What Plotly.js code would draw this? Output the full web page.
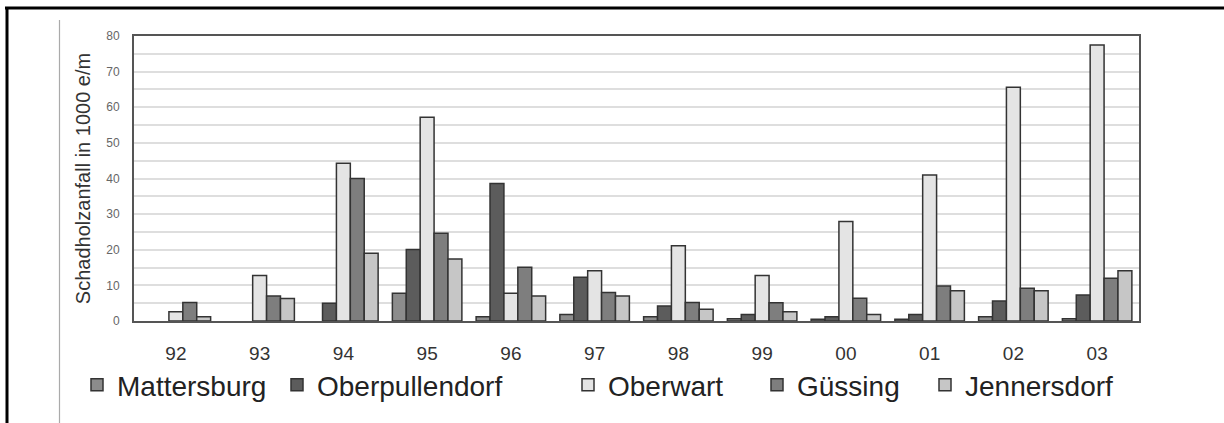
<!DOCTYPE html>
<html>
<head>
<meta charset="utf-8">
<script src="https://cdn.plot.ly/plotly-3.0.1.min.js"></script>
<style>
html,body{margin:0;padding:0;background:#fff;}
#chart{width:1224px;height:423px;}
</style>
</head>
<body>
<div id="chart"></div>
<script>
const years = ["92","93","94","95","96","97","98","99","00","01","02","03"];
const mattersburg    = [null, null, null, 7.8, 1.2, 1.8, 1.2, 0.6, 0.5, 0.5, 1.2, 0.6];
const oberpullendorf = [null, null, 5.0, 20.1, 38.6, 12.3, 4.2, 1.8, 1.2, 1.8, 5.6, 7.3];
const oberwart       = [2.6, 12.8, 44.3, 57.2, 7.8, 14.1, 21.1, 12.8, 27.9, 41.0, 65.6, 77.5];
const guessing       = [5.2, 7.0, 40.0, 24.6, 15.1, 8.0, 5.2, 5.1, 6.4, 9.8, 9.2, 12.0];
const jennersdorf    = [1.2, 6.3, 19.0, 17.4, 7.0, 7.0, 3.3, 2.6, 1.8, 8.5, 8.5, 14.1];
const seriesNames = ["Mattersburg","Oberpullendorf","Oberwart","Güssing","Jennersdorf"];
const seriesValues = [mattersburg, oberpullendorf, oberwart, guessing, jennersdorf];
const seriesColors = ["#8c8c8c","#5c5c5c","#e4e4e4","#7e7e7e","#c6c6c6"];
const yTitle = "Schadholzanfall in 1000 e/m";

const W = 1224, H = 423;
const L = 134, R = 1139, T = 36, B = 321;
const px = x => (x - L) / (R - L);
const py = y => (B - y) / (B - T);

const font = "'Liberation Sans', Arial, sans-serif";
const legendIds = ['legend','legend2','legend3','legend4','legend5'];
const legendX = [77, 277, 568, 757, 925];

const traces = seriesNames.map((n, k) => ({
  type: 'bar',
  name: n,
  x: years,
  y: seriesValues[k],
  legend: legendIds[k],
  marker: {color: seriesColors[k], line: {color: '#333333', width: 1.5}},
  hoverinfo: 'skip'
}));

const layout = {
  width: W, height: H,
  margin: {l: L, r: W - R, t: T, b: H - B, pad: 0},
  paper_bgcolor: '#ffffff',
  plot_bgcolor: '#ffffff',
  font: {family: font, color: '#333'},
  barmode: 'group',
  bargap: 0.17,
  bargroupgap: 0,
  showlegend: true,
  xaxis: {
    type: 'category',
    showline: true, linecolor: '#555', linewidth: 2, mirror: true,
    ticks: 'outside', ticklen: 14, tickcolor: 'rgba(0,0,0,0)',
    tickfont: {family: font, size: 19, color: '#333'},
    showgrid: false, zeroline: false
  },
  yaxis: {
    range: [0, 80], dtick: 10, tick0: 0,
    showline: true, linecolor: '#555', linewidth: 2, mirror: true,
    showgrid: true, gridcolor: '#dedede', gridwidth: 2,
    minor: {dtick: 5, showgrid: true, gridcolor: '#dedede', gridwidth: 2},
    zeroline: false,
    ticks: 'outside', ticklen: 10, tickcolor: 'rgba(0,0,0,0)',
    tickfont: {family: font, size: 12, color: '#666'},
    title: {text: yTitle, font: {family: font, size: 20, color: '#333'}, standoff: 10}
  },
  shapes: [
    {type:'line', xref:'paper', yref:'paper', x0: px(5), x1: px(1224), y0: py(8), y1: py(8), line:{color:'#000', width:3}},
    {type:'line', xref:'paper', yref:'paper', x0: px(7), x1: px(7), y0: py(7), y1: py(423), line:{color:'#000', width:3}},
    {type:'line', xref:'paper', yref:'paper', x0: px(59.5), x1: px(59.5), y0: py(20), y1: py(423), line:{color:'#aaa', width:1.2}}
  ]
};
legendIds.forEach((id, k) => {
  layout[id] = {
    orientation: 'h', x: px(legendX[k]), y: py(385), xanchor: 'left', yanchor: 'middle',
    font: {family: font, size: 28, color: '#222'},
    bgcolor: 'rgba(0,0,0,0)', borderwidth: 0
  };
});

Plotly.newPlot('chart', traces, layout, {staticPlot: true, displayModeBar: false});
</script>
</body>
</html>
